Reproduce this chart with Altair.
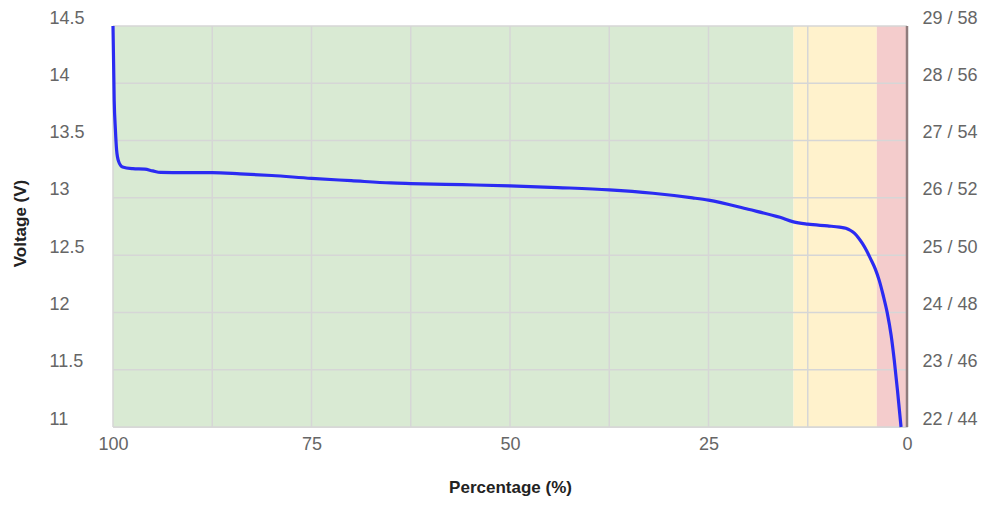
import altair as alt
import pandas as pd

# Discharge curve (percentage remaining, voltage)
pct = [100, 99.85, 99.7, 99.55, 99.3, 98.8, 97.5, 96.0, 95.0, 94.0, 91.0, 87.5, 84.0, 80.0,
       75.0, 70.0, 65.0, 62.5, 56.0, 50.0, 44.0, 37.5, 32.0, 27.0, 25.0, 20.0, 16.0, 14.3,
       12.5, 10.0, 8.5, 7.7, 7.1, 6.6, 6.1, 5.6, 5.1, 4.6, 4.0, 3.5, 3.0, 2.5, 2.0, 1.6, 1.2, 0.75]
volts = [14.5, 13.85, 13.6, 13.42, 13.32, 13.27, 13.255, 13.25, 13.235, 13.222, 13.22, 13.22,
         13.21, 13.195, 13.17, 13.15, 13.13, 13.125, 13.115, 13.105, 13.09, 13.07, 13.04, 13.0,
         12.98, 12.9, 12.83, 12.79, 12.77, 12.755, 12.745, 12.735, 12.715, 12.69, 12.65, 12.6,
         12.54, 12.47, 12.38, 12.28, 12.15, 12.0, 11.8, 11.58, 11.32, 11.0]

# Background zones
band_start = [14.3, 3.8, 0]
band_end = [100, 14.3, 3.8]
band_color = ["#d9ead3", "#fff2cc", "#f4cccc"]

x_grid = [0, 12.5, 25, 37.5, 50, 62.5, 75, 87.5, 100]
y_grid = [11, 11.5, 12, 12.5, 13, 13.5, 14, 14.5]

W, H = 794, 401
FONT = "Liberation Sans"

curve = pd.DataFrame({"pct": pct, "v": volts})
bands = pd.DataFrame({"a": band_start, "b": band_end, "c": band_color,
                      "y0": [11] * 3, "y1": [14.5] * 3})
xg = pd.DataFrame({"x": x_grid})
yg = pd.DataFrame({"y": y_grid})

xscale = alt.Scale(domain=[0, 100], reverse=True, nice=False, zero=False)
yscale = alt.Scale(domain=[11, 14.5], nice=False, zero=False)

band_layer = alt.Chart(bands).mark_rect().encode(
    x=alt.X("a:Q", scale=xscale, axis=None),
    x2="b:Q",
    y=alt.Y("y0:Q", scale=yscale, axis=None),
    y2="y1:Q",
    color=alt.Color("c:N", scale=None),
)

vgrid = alt.Chart(xg).mark_rule(color="#d6d6d6", strokeWidth=1.5).encode(
    x=alt.X("x:Q", scale=xscale, axis=None),
    y=alt.value(0), y2=alt.value(H),
)

hgrid = alt.Chart(yg).mark_rule(color="#d6d6d6", strokeWidth=1.5).encode(
    y=alt.Y("y:Q", scale=yscale, axis=alt.Axis(
        orient="right", values=y_grid, grid=False, ticks=False, tickSize=0, domain=False,
        labelExpr="format(datum.value*2,'d') + ' / ' + format(datum.value*4,'d')",
        labelPadding=15, labelFont=FONT, labelFontSize=18, labelColor="#666666",
        labelOffset=-8, labelAlign="left", title=None)),
    x=alt.value(0), x2=alt.value(W),
)

zero_line = alt.Chart(pd.DataFrame({"x": [0]})).mark_rule(color="#8f7c7c", strokeWidth=2.5).encode(
    x=alt.X("x:Q", scale=xscale, axis=None),
    y=alt.value(0), y2=alt.value(H),
)

line = alt.Chart(curve).mark_line(color="#2b2bf2", strokeWidth=3.2, interpolate="monotone").encode(
    x=alt.X("pct:Q", scale=xscale, axis=alt.Axis(
        values=x_grid, grid=False, ticks=False, tickSize=0, domain=True, domainColor="#dddddd",
        labelExpr="datum.value % 25 == 0 ? datum.label : ''", labelFlush=False, labelOverlap=False,
        labelPadding=8, labelFont=FONT, labelFontSize=18, labelColor="#666666",
        title="Percentage (%)", titleFont=FONT, titleFontSize=17, titleFontWeight="bold",
        titleColor="#222222", titleY=60, titleBaseline="middle")),
    y=alt.Y("v:Q", scale=yscale, axis=alt.Axis(
        orient="left", values=y_grid, grid=False, ticks=False, tickSize=0, domain=False,
        labelExpr="format(datum.value, '~g')",
        labelAlign="left", labelPadding=64, labelFont=FONT, labelFontSize=18,
        labelColor="#666666", labelOffset=-8,
        title="Voltage (V)", titleFont=FONT, titleFontSize=17, titleFontWeight="bold",
        titleColor="#222222", titleX=-93, titleY=197, titleAngle=-90,
        titleBaseline="middle", titleAlign="center")),
)

chart = alt.layer(band_layer, vgrid, hgrid, zero_line, line).resolve_axis(
    y="independent", x="independent"
).properties(
    width=W, height=H,
    autosize=alt.AutoSizeParams(type="none"),
    padding={"left": 105, "top": 18, "right": 73, "bottom": 70},
).configure_view(stroke=None).configure(background="white")

chart.save("out.html", embed_options={"renderer": "svg", "actions": False})
